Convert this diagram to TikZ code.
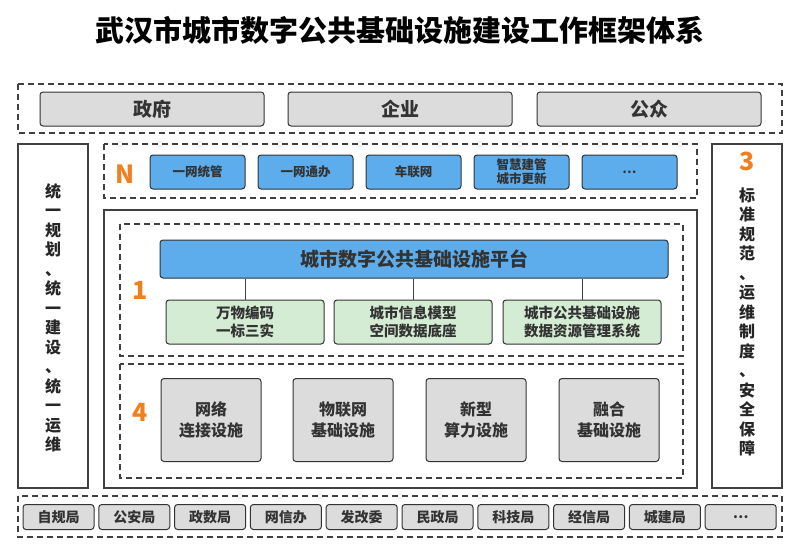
\documentclass[tikz,border=0pt]{standalone}
\usepackage{fontspec}
\setmainfont{Noto Sans CJK SC}
\usetikzlibrary{positioning}
\definecolor{BlueBox}{HTML}{5DADEC}
\definecolor{GreyBox}{HTML}{DCDCDC}
\definecolor{GreenBox}{HTML}{D5ECD4}
\definecolor{NumOrange}{HTML}{F0801E}
\tikzset{
  frame/.style={draw=black!75, dashed, line width=1.2pt, dash pattern=on 6pt off 4pt},
  solidframe/.style={draw=black!75, line width=1.2pt},
  box/.style={draw=black!80, line width=1pt, rounded corners=3pt, align=center, inner sep=0pt, font=\bfseries, text=black!80},
  user/.style={box, fill=GreyBox, minimum width=224pt, minimum height=34pt, font=\bfseries\fontsize{19}{22}\selectfont},
  app/.style={box, fill=BlueBox, minimum width=95pt, minimum height=34pt, font=\bfseries\fontsize{12.5}{14}\selectfont},
  data/.style={box, fill=GreenBox, minimum width=158pt, minimum height=44pt, font=\bfseries\fontsize{14.5}{17.5}\selectfont},
  infra/.style={box, fill=GreyBox, minimum width=100pt, minimum height=83pt, font=\bfseries\fontsize{16}{21}\selectfont},
  dept/.style={box, fill=GreyBox, minimum width=71pt, minimum height=25pt, font=\bfseries\fontsize{14}{16}\selectfont},
  num/.style={text=NumOrange, font=\bfseries\fontsize{25}{27}\selectfont},
  side/.style={align=center, font=\bfseries\fontsize{16}{19.5}\selectfont, text=black!85}
}
\begin{document}
\begin{tikzpicture}[x=1pt, y=-1pt]
    \useasboundingbox (0,0) rectangle (800,557);

    \node (title) at (400,30) {\bfseries\fontsize{29}{32}\selectfont 武汉市城市数字公共基础设施建设工作框架体系};

    % 使用者
    \draw[frame] (18,84) rectangle (782,133);
    \node[user] (gov) at (152,109) {政府};
    \node[user] (biz) at (400,109) {企业};
    \node[user] (pub) at (649,109) {公众};

    % 两侧
    \draw[solidframe] (18,144) rectangle (88,488);
    \node[side] (plan) at (53,318) {统\\一\\规\\划\\、\\统\\一\\建\\设\\、\\统\\一\\运\\维};
    \draw[solidframe] (712,144) rectangle (782,488);
    \node[num] (n3) at (747,161) {3};
    \node[side] (norm) at (747,322) {标\\准\\规\\范\\、\\运\\维\\制\\度\\、\\安\\全\\保\\障};

    % N 应用
    \draw[frame] (104,144) rectangle (697,198);
    \node[num] (nN) at (125,174) {N};
    \node[app] (a1) at (197.5,172) {一网统管};
    \node[app] (a2) at (305.5,172) {一网通办};
    \node[app] (a3) at (413.5,172) {车联网};
    \node[app] (a4) at (521.5,172) {智慧建管\\城市更新};
    \node[app] (a5) at (629.5,172) {…};

    % 平台
    \draw[solidframe] (104,210) rectangle (697,488);
    \draw[frame] (120,224) rectangle (683,356);
    \node[num] (n1) at (140,290) {1};
    \node[box, fill=BlueBox, minimum width=508pt, minimum height=38pt,
          font=\bfseries\fontsize{19}{22}\selectfont] (plat) at (414,259) {城市数字公共基础设施平台};
    \node[data] (d1) at (245,322) {万物编码\\一标三实};
    \node[data] (d2) at (413,322) {城市信息模型\\空间数据底座};
    \node[data] (d3) at (582,322) {城市公共基础设施\\数据资源管理系统};
    \foreach \d in {d1,d2,d3}
        \draw[black!75, line width=1pt] (plat.south -| \d.north) -- (\d.north);

    % 基础设施
    \draw[frame] (120,364) rectangle (683,478);
    \node[num] (n4) at (140,412) {4};
    \node[infra] (i1) at (211,420) {网络\\连接设施};
    \node[infra] (i2) at (343,420) {物联网\\基础设施};
    \node[infra] (i3) at (476,420) {新型\\算力设施};
    \node[infra] (i4) at (609,420) {融合\\基础设施};

    % 部门
    \draw[frame] (18,496) rectangle (782,537);
    \foreach \t [count=\i from 0] in {自规局,公安局,政数局,网信办,发改委,民政局,科技局,经信局,城建局,…}
        \node[dept] (dep\i) at (58.5+75.8*\i,517) {\t};
\end{tikzpicture}
\end{document}
